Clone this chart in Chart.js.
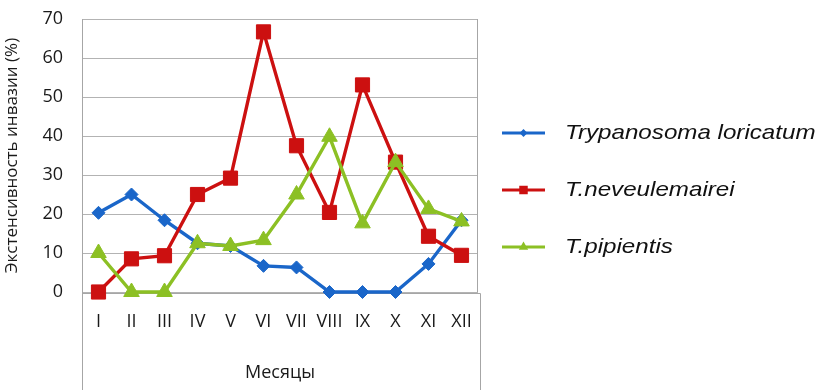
<!DOCTYPE html>
<html>
<head>
<meta charset="utf-8">
<script src="https://cdn.jsdelivr.net/npm/chart.js@4/dist/chart.umd.min.js"></script>
<style>
  html, body { margin: 0; padding: 0; background: #ffffff; }
  #wrap { width: 819px; height: 390px; position: relative; }
</style>
</head>
<body>
<div id="wrap"><canvas id="c" width="819" height="390"></canvas></div>
<script>
// Months (Roman numerals) and invasion extensiveness, %
const months = ['I', 'II', 'III', 'IV', 'V', 'VI', 'VII', 'VIII', 'IX', 'X', 'XI', 'XII'];
const loricatum = [20.3, 25.0, 18.4, 12.5, 11.8, 6.7, 6.3, 0, 0, 0, 7.2, 18.4];
const neveulemairei = [0, 8.5, 9.3, 25.0, 29.2, 66.7, 37.5, 20.4, 53.1, 33.3, 14.3, 9.4];
const pipientis = [10.0, 0, 0, 12.5, 11.8, 13.3, 25.0, 39.8, 17.6, 33.3, 21.3, 18.1];
const seriesNames = ['Trypanosoma loricatum', 'T.neveulemairei', 'T.pipientis'];
const yTicks = [0, 10, 20, 30, 40, 50, 60, 70];

const BLUE = '#1a66c9';
const RED = '#cc1010';
const GREEN = '#8cc024';
const GRID = '#b3b3b3';
const FRAME = '#a6a6a6';

// Frame lines around plot and the axis-title box below it
const framePlugin = {
  id: 'frame',
  beforeDatasetsDraw(chart) {
    const { ctx, chartArea: a } = chart;
    ctx.save();
    ctx.strokeStyle = FRAME;
    ctx.lineWidth = 1;
    ctx.beginPath();
    ctx.moveTo(a.left + 0.5, a.top);
    ctx.lineTo(a.left + 0.5, chart.height);
    ctx.moveTo(a.right - 0.5, a.top);
    ctx.lineTo(a.right - 0.5, a.bottom);
    ctx.moveTo(a.left, a.bottom + 1.5);
    ctx.lineTo(a.right + 2.5, a.bottom + 1.5);
    ctx.lineTo(a.right + 2.5, chart.height);
    ctx.stroke();
    ctx.restore();
  }
};

// Legend on the right, drawn from the dataset styles
const legendPlugin = {
  id: 'sideLegend',
  afterDraw(chart) {
    const { ctx } = chart;
    const rows = [133, 190, 247];
    chart.data.datasets.forEach((ds, i) => {
      const y = rows[i];
      ctx.save();
      ctx.strokeStyle = ds.borderColor;
      ctx.lineWidth = 3;
      ctx.beginPath();
      ctx.moveTo(502, y);
      ctx.lineTo(545, y);
      ctx.stroke();
      ctx.fillStyle = ds.borderColor;
      Chart.helpers.drawPoint(ctx, {
        pointStyle: ds.pointStyle,
        radius: ds.pointRadius * 0.6,
        rotation: 0,
        borderWidth: 0
      }, 523.5, y);
      ctx.translate(565, y);
      ctx.scale(1.15, 1);
      ctx.fillStyle = '#111111';
      ctx.font = 'italic 21px "Liberation Sans", Arial, sans-serif';
      ctx.textBaseline = 'middle';
      ctx.textAlign = 'left';
      ctx.fillText(ds.label, 0, 0);
      ctx.restore();
    });
  }
};

const mkSet = (label, data, color, style, radius, order) => ({
  label, data,
  borderColor: color,
  backgroundColor: color,
  pointBackgroundColor: color,
  pointBorderColor: color,
  pointBorderWidth: 1,
  borderWidth: 3.4,
  pointStyle: style,
  pointRadius: radius,
  pointHoverRadius: radius,
  tension: 0,
  clip: false,
  order
});

new Chart(document.getElementById('c'), {
  type: 'line',
  data: {
    labels: months,
    datasets: [
      mkSet(seriesNames[0], loricatum, BLUE, 'rectRot', 6.5, 3),
      mkSet(seriesNames[1], neveulemairei, RED, 'rect', 10, 2),
      mkSet(seriesNames[2], pipientis, GREEN, 'triangle', 9, 1)
    ]
  },
  options: {
    responsive: false,
    animation: false,
    devicePixelRatio: 1,
    layout: { autoPadding: false, padding: { left: 0, top: 19, right: 341, bottom: 0 } },
    plugins: {
      legend: { display: false },
      tooltip: { enabled: false }
    },
    scales: {
      x: {
        type: 'category',
        offset: true,
        grid: { display: false, drawTicks: false },
        border: { display: false },
        ticks: {
          padding: 19,
          color: '#1a1a1a',
          font: { family: '"Open Sans", sans-serif', size: 18 },
          maxRotation: 0,
          autoSkip: false
        },
        title: {
          display: true,
          text: 'Месяцы',
          color: '#1a1a1a',
          font: { family: '"Open Sans", sans-serif', size: 18 },
          padding: { top: 0, bottom: 6 }
        },
        afterFit(s) { s.height = 98; }
      },
      y: {
        min: 0,
        max: 70,
        afterBuildTicks(s) { s.ticks = yTicks.map(v => ({ value: v })); },
        grid: {
          color: GRID,
          lineWidth: 1,
          drawTicks: true,
          tickLength: 19,
          tickColor: 'rgba(0,0,0,0)'
        },
        border: { display: false },
        ticks: {
          padding: 0,
          color: '#1a1a1a',
          font: { family: '"Open Sans", sans-serif', size: 18 }
        },
        title: {
          display: true,
          text: 'Экстенсивность инвазии (%)',
          color: '#1a1a1a',
          font: { family: '"Open Sans", sans-serif', size: 17 },
          padding: { top: 2, bottom: 0 }
        },
        afterFit(s) { s.width = 82; }
      }
    }
  },
  plugins: [framePlugin, legendPlugin]
});
</script>
</body>
</html>
